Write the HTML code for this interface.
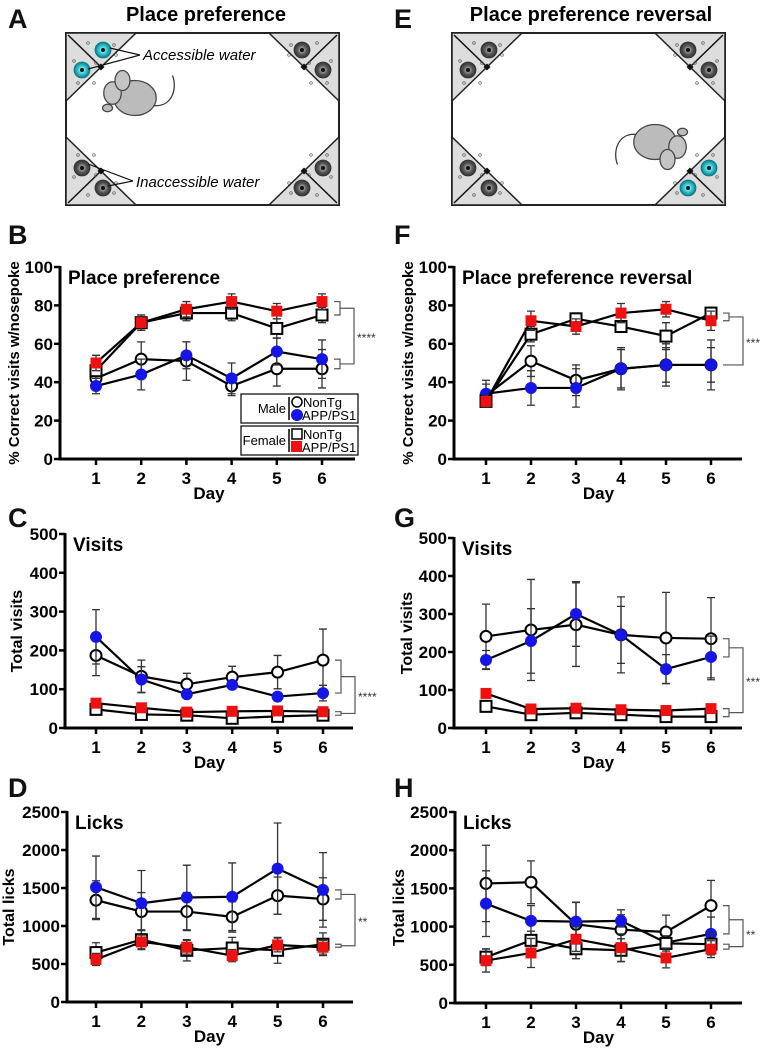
<!DOCTYPE html>
<html><head><meta charset="utf-8">
<style>
html,body{margin:0;padding:0;background:#fff;}
svg{display:block;font-family:"Liberation Sans",Arial,sans-serif;}
</style></head>
<body>
<svg id="fig" width="764" height="1050" viewBox="0 0 764 1050" xmlns="http://www.w3.org/2000/svg">
<defs>
<radialGradient id="gray" cx="50%" cy="50%" r="50%"><stop offset="0" stop-color="#222"/><stop offset="0.25" stop-color="#999"/><stop offset="0.6" stop-color="#555"/><stop offset="1" stop-color="#333"/></radialGradient>
<radialGradient id="cyan" cx="50%" cy="50%" r="50%"><stop offset="0" stop-color="#046"/><stop offset="0.25" stop-color="#6ee"/><stop offset="0.7" stop-color="#2ab"/><stop offset="1" stop-color="#178"/></radialGradient>
</defs>
<g id="diagrams"></g>
<g id="charts"></g>
</svg>
<script>
// ---------- chart data ----------
const days = [1,2,3,4,5,6];
// B: place preference (%)
const bMaleNonTg = [42,52,51,38,47,47];
const bMaleApp   = [38,44,54,42,56,52];
const bFemNonTg  = [46,71,76,76,68,75];
const bFemApp    = [50,71,78,82,77,82];
const bErrMaleNonTg = [4,9,10,5,9,10];
const bErrMaleApp   = [4,8,7,8,7,10];
const bErrFemNonTg  = [4,4,4,4,5,4];
const bErrFemApp    = [4,4,4,4,4,4];
// F: place preference reversal (%)
const fMaleNonTg = [33,51,41,47,49,49];
const fMaleApp   = [34,37,37,47,49,49];
const fFemNonTg  = [30,65,73,69,64,76];
const fFemApp    = [30,72,69,76,78,72];
const fErrMaleNonTg = [6,8,8,11,9,9];
const fErrMaleApp   = [7,9,10,10,11,13];
const fErrFemNonTg  = [3,4,3,3,7,3];
const fErrFemApp    = [3,5,4,5,4,5];
// C: total visits
const cMaleNonTg = [187,133,113,131,144,175];
const cMaleApp   = [235,125,87,111,81,90];
const cFemNonTg  = [48,35,33,25,30,33];
const cFemApp    = [64,52,41,43,44,42];
const cErrMaleNonTg = [52,42,28,28,43,80];
const cErrMaleApp   = [70,33,8,10,10,20];
const cErrFemNonTg  = [5,4,4,4,4,4];
const cErrFemApp    = [6,5,4,4,4,4];
// G: total visits reversal
const gMaleNonTg = [241,258,272,245,237,235];
const gMaleApp   = [179,229,300,245,155,187];
const gFemNonTg  = [57,35,40,35,30,30];
const gFemApp    = [91,50,52,48,46,51];
const gErrMaleNonTg = [85,133,110,100,120,108];
const gErrMaleApp   = [25,85,85,75,38,55];
const gErrFemNonTg  = [5,4,4,4,4,4];
const gErrFemApp    = [6,5,5,4,4,4];
// D: total licks
const dMaleNonTg = [1340,1190,1190,1120,1400,1355];
const dMaleApp   = [1510,1300,1375,1385,1755,1475];
const dFemNonTg  = [650,820,680,710,680,760];
const dFemApp    = [560,790,720,610,750,720];
const dErrMaleNonTg = [255,250,250,200,245,280];
const dErrMaleApp   = [410,430,425,445,600,490];
const dErrFemNonTg  = [130,130,140,140,170,150];
const dErrFemApp    = [80,90,90,80,90,90];
// H: total licks reversal
const hMaleNonTg = [1565,1580,1030,960,930,1275];
const hMaleApp   = [1300,1075,1065,1075,790,905];
const hFemNonTg  = [600,820,710,690,780,770];
const hFemApp    = [555,655,835,725,590,705];
const hErrMaleNonTg = [500,280,290,260,220,330];
const hErrMaleApp   = [430,200,250,80,60,220];
const hErrFemNonTg  = [110,120,130,150,100,140];
const hErrFemApp    = [150,190,160,180,130,110];
const yTicksPct = [0,20,40,60,80,100];
const yTicksVisits = [0,100,200,300,400,500];
const yTicksLicks = [0,500,1000,1500,2000,2500];

const NS = 'http://www.w3.org/2000/svg';
function mk(parent, tag, attrs, text){
  const e = document.createElementNS(NS, tag);
  for (const k in attrs) e.setAttribute(k, attrs[k]);
  if (text !== undefined) e.textContent = text;
  parent.appendChild(e);
  return e;
}
const charts = document.getElementById('charts');
const diag = document.getElementById('diagrams');

function panelLetter(x,y,t){
  const e = mk(diag,'text',{x:x,y:y,'font-size':27,'font-weight':'bold',fill:'#111'},t);
  
  
}

function drawChart(p){
  const g = mk(charts,'g',{});
  
  
  const maxV = p.ticks[p.ticks.length-1];
  const xs = d => p.x1 + (d-1)*(p.x6-p.x1)/5;
  const ys = v => p.zero - v*(p.zero-p.top)/maxV;
  const ya = mk(g,'line',{x1:p.ax,y1:p.top-1,x2:p.ax,y2:p.zero+1.5,stroke:'#000','stroke-width':3});
  
  
  const xa = mk(g,'line',{x1:p.ax-1.5,y1:p.zero,x2:p.xend,y2:p.zero,stroke:'#000','stroke-width':3});
  
  
  p.ticks.forEach(t=>{
    mk(g,'line',{x1:p.ax-6,y1:ys(t),x2:p.ax,y2:ys(t),stroke:'#000','stroke-width':2.5});
    const tl = mk(g,'text',{x:p.ax-7,y:ys(t)+6,'font-size':17,'font-weight':'bold','text-anchor':'end'},String(t));
    
    
  });
  days.forEach(d=>{
    mk(g,'line',{x1:xs(d),y1:p.zero,x2:xs(d),y2:p.zero+6,stroke:'#000','stroke-width':2.5});
    const tl = mk(g,'text',{x:xs(d),y:p.zero+25,'font-size':17,'font-weight':'bold','text-anchor':'middle'},String(d));
    
    
  });
  const xt = mk(g,'text',{x:(p.x1+p.x6)/2,y:p.zero+40,'font-size':17,'font-weight':'bold','text-anchor':'middle'},'Day');
  
  
  const yt = mk(g,'text',{x:0,y:0,'font-size':p.ylfs,'font-weight':'bold','text-anchor':'middle',transform:'translate('+p.ylx+','+((p.top+p.zero)/2)+') rotate(-90)'},p.ylab);
  
  
  const tt = mk(g,'text',{x:p.ax+8,y:p.top+17,'font-size':19,'font-weight':'bold'},p.title);
  
  

  p.series.forEach(s=>{
    const sg = mk(g,'g',{});
    
    
    s.vals.forEach((v,i)=>{
      const x = xs(days[i]);
      const e = s.err[i];
      mk(sg,'path',{d:'M'+x+' '+ys(v+e)+'V'+ys(v-e)+'M'+(x-4)+' '+ys(v+e)+'h8M'+(x-4)+' '+ys(v-e)+'h8',stroke:'#333','stroke-width':1.3,fill:'none'});
    });
    mk(sg,'polyline',{points:s.vals.map((v,i)=>xs(days[i])+','+ys(v)).join(' '),fill:'none',stroke:'#000','stroke-width':2.2});
    s.vals.forEach((v,i)=>{
      const x = xs(days[i]), y = ys(v);
      let m;
      if (s.shape==='circle') m = mk(sg,'circle',{cx:x,cy:y,r:s.fill==='#fff'?5.5:6,fill:s.fill,stroke:s.fill==='#fff'?'#000':'none','stroke-width':2});
      else m = mk(sg,'rect',{x:x-5.5,y:y-5.5,width:11,height:11,fill:s.fill,stroke:s.fill==='#fff'?'#000':'none','stroke-width':2});
      
      
    });
  });
  const last = 5;
  const pairA = [p.series[0].vals[last], p.series[1].vals[last]];
  const pairB = [p.series[2].vals[last], p.series[3].vals[last]];
  const bx0 = p.x6 + 12, bx1 = p.x6 + 18, bx2 = p.x6 + 32;
  const bk = mk(g,'g',{stroke:'#555','stroke-width':1.2,fill:'none'});
  
  
  const mids = [];
  [pairA,pairB].forEach(pr=>{
    const ya1 = ys(pr[0]), ya2 = ys(pr[1]);
    mk(bk,'path',{d:'M'+bx0+' '+ya1+'H'+bx1+'V'+ya2+'H'+bx0});
    mids.push((ya1+ya2)/2);
  });
  mk(bk,'path',{d:'M'+bx1+' '+mids[0]+'H'+bx2+'V'+mids[1]+'H'+bx1});
  const st = mk(g,'text',{x:bx2+3,y:(mids[0]+mids[1])/2+6,'font-size':12,fill:'#333'},p.stars);
  
  
}

function S(name,shape,fill,vals,err){return {name,shape,fill,vals,err};}
const BLUE='#1515e6', RED='#ee1111';
const panels = [
 {id:'b',ax:60,top:267,zero:459,x1:96,x6:322,xend:355,ticks:yTicksPct,title:'Place preference',ylab:'% Correct visits w/nosepoke',ylx:19,ylfs:15,stars:'****',
  series:[S('male-nontg','circle','#fff',bMaleNonTg,bErrMaleNonTg),S('male-app','circle',BLUE,bMaleApp,bErrMaleApp),S('female-nontg','square','#fff',bFemNonTg,bErrFemNonTg),S('female-app','square',RED,bFemApp,bErrFemApp)]},
 {id:'f',ax:454,top:267,zero:459,x1:486,x6:711,xend:742,ticks:yTicksPct,title:'Place preference reversal',ylab:'% Correct visits w/nosepoke',ylx:413,ylfs:15,stars:'***',
  series:[S('male-nontg','circle','#fff',fMaleNonTg,fErrMaleNonTg),S('male-app','circle',BLUE,fMaleApp,fErrMaleApp),S('female-nontg','square','#fff',fFemNonTg,fErrFemNonTg),S('female-app','square',RED,fFemApp,fErrFemApp)]},
 {id:'c',ax:65,top:534,zero:728,x1:96,x6:323,xend:353,ticks:yTicksVisits,title:'Visits',ylab:'Total visits',ylx:22,ylfs:16,stars:'****',
  series:[S('male-nontg','circle','#fff',cMaleNonTg,cErrMaleNonTg),S('male-app','circle',BLUE,cMaleApp,cErrMaleApp),S('female-nontg','square','#fff',cFemNonTg,cErrFemNonTg),S('female-app','square',RED,cFemApp,cErrFemApp)]},
 {id:'g',ax:454,top:538,zero:728,x1:486,x6:711,xend:742,ticks:yTicksVisits,title:'Visits',ylab:'Total visits',ylx:412,ylfs:16,stars:'***',
  series:[S('male-nontg','circle','#fff',gMaleNonTg,gErrMaleNonTg),S('male-app','circle',BLUE,gMaleApp,gErrMaleApp),S('female-nontg','square','#fff',gFemNonTg,gErrFemNonTg),S('female-app','square',RED,gFemApp,gErrFemApp)]},
 {id:'d',ax:67,top:812,zero:1002,x1:96,x6:323,xend:353,ticks:yTicksLicks,title:'Licks',ylab:'Total licks',ylx:14,ylfs:16,stars:'**',
  series:[S('male-nontg','circle','#fff',dMaleNonTg,dErrMaleNonTg),S('male-app','circle',BLUE,dMaleApp,dErrMaleApp),S('female-nontg','square','#fff',dFemNonTg,dErrFemNonTg),S('female-app','square',RED,dFemApp,dErrFemApp)]},
 {id:'h',ax:455,top:812,zero:1003,x1:486,x6:711,xend:742,ticks:yTicksLicks,title:'Licks',ylab:'Total licks',ylx:404,ylfs:16,stars:'**',
  series:[S('male-nontg','circle','#fff',hMaleNonTg,hErrMaleNonTg),S('male-app','circle',BLUE,hMaleApp,hErrMaleApp),S('female-nontg','square','#fff',hFemNonTg,hErrFemNonTg),S('female-app','square',RED,hFemApp,hErrFemApp)]}
];
panels.forEach(drawChart);

// legend in panel B
(function(){
  const lg = mk(charts,'g',{'font-size':13});
  
  
  [['Male',394,'circle'],['Female',426,'square']].forEach(r=>{
    const y0=r[1];
    mk(lg,'rect',{x:241,y:y0,width:117,height:29,fill:'#fff',stroke:'#000','stroke-width':1.2});
    mk(lg,'text',{x:286,y:y0+19,'text-anchor':'end'},r[0]);
    mk(lg,'line',{x1:289,y1:y0+3,x2:289,y2:y0+26,stroke:'#000','stroke-width':1.5});
    if(r[2]==='circle'){ mk(lg,'circle',{cx:297,cy:y0+8,r:5,fill:'#fff',stroke:'#000','stroke-width':1.5}); mk(lg,'circle',{cx:297,cy:y0+21,r:6,fill:BLUE}); }
    else { mk(lg,'rect',{x:292,y:y0+3,width:10,height:10,fill:'#fff',stroke:'#000','stroke-width':1.5}); mk(lg,'rect',{x:291,y:y0+15,width:11,height:11,fill:RED}); }
    const e1 = mk(lg,'text',{x:303,y:y0+13},'NonTg');
    
    
    const e2 = mk(lg,'text',{x:302,y:y0+26},'APP/PS1');
    
    
  });
})();

// ---------- arena diagrams ----------
function ring(g,cx,cy,isCyan){
  mk(g,'circle',{cx:cx,cy:cy,r:8,fill:isCyan?'url(#cyan)':'url(#gray)',stroke:isCyan?'#177':'#333','stroke-width':0.8});
  mk(g,'circle',{cx:cx,cy:cy,r:2,fill:'#111'});
}
function arena(x0,y0,w,h,cyanCorner,mouse,name){
  const g = mk(diag,'g',{});
  
  
  mk(g,'rect',{x:x0,y:y0,width:w,height:h,fill:'#fff',stroke:'#222','stroke-width':2});
  const L=70,H=68;
  const corners=[[x0,y0,1,1],[x0+w,y0,-1,1],[x0,y0+h,1,-1],[x0+w,y0+h,-1,-1]];
  corners.forEach((c,i)=>{
    const [cx,cy,sx,sy]=c;
    mk(g,'path',{d:'M'+cx+' '+cy+'L'+(cx+sx*L)+' '+cy+'L'+cx+' '+(cy+sy*H)+'Z',fill:'#ddd',stroke:'#222','stroke-width':1.5});
    mk(g,'line',{x1:cx+sx*2,y1:cy+sy*2,x2:cx+sx*L/2,y2:cy+sy*H/2,stroke:'#111','stroke-width':1.5});
    mk(g,'rect',{x:cx+sx*L/2-2.5,y:cy+sy*H/2-2.5,width:5,height:5,fill:'#111',transform:'rotate(45 '+(cx+sx*L/2)+' '+(cy+sy*H/2)+')'});
    const cy1 = i===cyanCorner;
    ring(g,cx+sx*37,cy+sy*17,cy1);
    ring(g,cx+sx*16,cy+sy*37,cy1);
    [[22,10],[48,12],[8,28],[30,30],[12,50],[28,50],[50,22]].forEach(d=>{
      mk(g,'circle',{cx:cx+sx*d[0],cy:cy+sy*d[1],r:1.3,fill:'none',stroke:'#555','stroke-width':0.7});
    });
  });
  const m = mk(g,'g',{transform:'translate('+mouse[0]+','+mouse[1]+') rotate('+mouse[2]+') scale(1.25)'});
  
  
  mk(m,'path',{d:'M14 6 C 30 8, 34 -8, 30 -18',fill:'none',stroke:'#333','stroke-width':1});
  mk(m,'ellipse',{cx:0,cy:0,rx:17,ry:14,fill:'#bbb',stroke:'#444','stroke-width':1});
  mk(m,'ellipse',{cx:-18,cy:-4,rx:7,ry:9,fill:'#c4c4c4',stroke:'#444','stroke-width':1});
  mk(m,'ellipse',{cx:-10,cy:-14,rx:6,ry:8,fill:'#c4c4c4',stroke:'#444','stroke-width':1});
  mk(m,'ellipse',{cx:-22,cy:8,rx:4,ry:3,fill:'#bbb',stroke:'#444','stroke-width':1});
}
arena(66,33,273,172,0,[135,98,0],'arena-place-preference');
arena(452,33,273,172,3,[655,142,180],'arena-place-preference-reversal');

[['Place preference',206,21,'diagram-title-a'],['Place preference reversal',591,21,'diagram-title-e']].forEach(t=>{
  const e = mk(diag,'text',{x:t[1],y:t[2],'font-size':20,'font-weight':'bold','text-anchor':'middle'},t[0]);
  
  
});
const a1 = mk(diag,'text',{x:143,y:60,'font-size':15,'font-style':'italic'},'Accessible water');


mk(diag,'path',{d:'M140 55L110 48M140 55L88 69',stroke:'#111','stroke-width':1.2,fill:'none'});
const a2 = mk(diag,'text',{x:136,y:187,'font-size':15,'font-style':'italic'},'Inaccessible water');


mk(diag,'path',{d:'M133 181L88 164M133 181L108 186',stroke:'#111','stroke-width':1.2,fill:'none'});

panelLetter(8,28,'A'); panelLetter(8,244,'B'); panelLetter(8,527,'C'); panelLetter(8,797,'D');
panelLetter(394,28,'E'); panelLetter(394,244,'F'); panelLetter(394,527,'G'); panelLetter(394,797,'H');
</script>
</body></html>
